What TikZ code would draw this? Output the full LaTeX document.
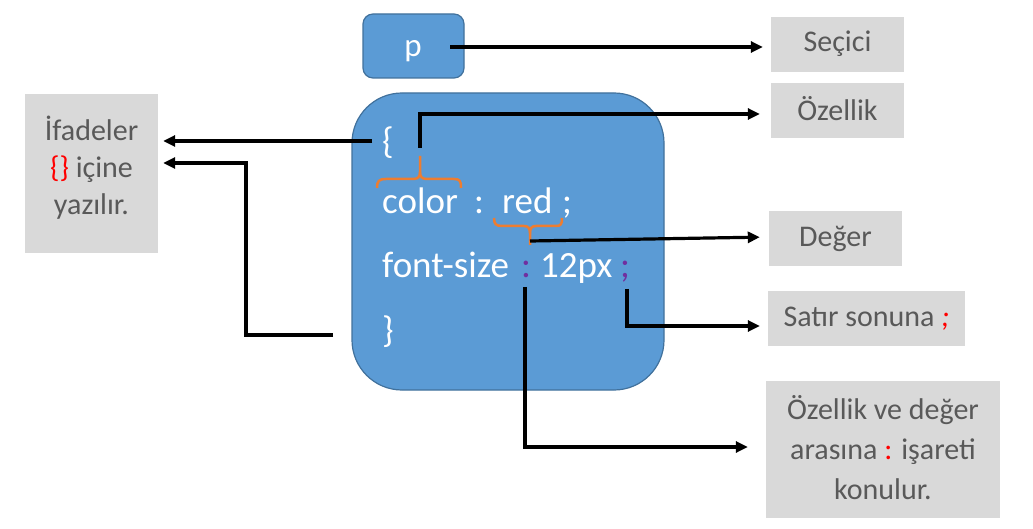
\documentclass[tikz,border=0pt]{standalone}
\usepackage{fontspec}
\setmainfont{Carlito}
\usetikzlibrary{arrows.meta}
\definecolor{blu}{HTML}{5B9BD5}
\definecolor{bluedge}{HTML}{41719C}
\definecolor{gry}{HTML}{D9D9D9}
\definecolor{txtg}{HTML}{595959}
\definecolor{org}{HTML}{ED7D31}
\definecolor{purp}{HTML}{7030A0}
\begin{document}
\begin{tikzpicture}[x=1pt,y=-1pt,
 lblbox/.style={fill=gry, inner sep=0pt},
 lbltext/.style={text=txtg, font=\fontsize{30}{37}\selectfont, inner sep=0pt, align=center},
 arr/.style={line width=3.2pt, -{Triangle[length=12pt,width=11pt]}},
 code/.style={text=white, font=\fontsize{37}{44}\selectfont, inner sep=0pt, anchor=base west},
 brc/.style={draw=org, line width=2.5pt}]

\useasboundingbox (0,0) rectangle (1033,529);

% blue shapes
\node[fill=blu, draw=bluedge, line width=1.2pt, rounded corners=10pt, minimum width=101pt, minimum height=64pt] (pbox) at (413.5,46) {};
\node[text=white, font=\fontsize{33}{40}\selectfont, inner sep=0pt, anchor=base] (pT) at (413,57) {p};
\node[fill=blu, draw=bluedge, line width=1.2pt, rounded corners=50pt, minimum width=312pt, minimum height=297pt] (body) at (508,241.5) {};

% label boxes
\node[lblbox, minimum width=133pt, minimum height=55pt] (secici) at (837.5,44.5) {};
\node[lbltext] (seciciT) at (837.5,43.5) {Seçici};
\node[lblbox, minimum width=133pt, minimum height=55pt] (ozellik) at (837.5,110.5) {};
\node[lbltext] (ozellikT) at (837.5,109) {Özellik};
\node[lblbox, minimum width=133pt, minimum height=55pt] (deger) at (835.5,238.5) {};
\node[lbltext] (degerT) at (835.5,238.5) {Değer};
\node[lblbox, minimum width=197pt, minimum height=55pt] (satir) at (866.5,318.5) {};
\node[lbltext] (satirT) at (866.5,318.5) {Satır sonuna {\color{red}\itshape;}};
\node[lblbox, minimum width=234pt, minimum height=137pt] (alt) at (883,449.5) {};
\node[lbltext, font=\fontsize{30}{40}\selectfont] (altT) at (883,448) {Özellik ve değer\\arasına {\color{red}:} işareti\\konulur.};
\node[lblbox, minimum width=133pt, minimum height=159pt] (left) at (91.5,173.5) {};
\node[lbltext] (leftT) at (91.5,167.5) {İfadeler\\{\color{red}\{\}} içine\\yazılır.};

% code text
\node[text=white, font=\fontsize{37}{44}\selectfont, inner sep=0pt] (ob) at (388,143) {\{};
\node[code] (color) at (382,214) {color};
\node[code] (col1) at (474,214) {:};
\node[code] (red) at (502,214) {red};
\node[code] (semi1) at (562,214) {;};
\node[code] (fs) at (382,278) {font-size};
\node[code, text=purp] (col2) at (521,278) {:};
\node[code] (px) at (540,278) {12px};
\node[code, text=purp] (semi2) at (620,278) {;};
\node[text=white, font=\fontsize{37}{44}\selectfont, inner sep=0pt] (cb) at (388,332) {\}};

% braces
\draw[brc] (377,188) .. controls (377,181) and (379,179) .. (386,179) -- (413,179) .. controls (418,179) and (420,177) .. (420,172) -- (420,156);
\draw[brc] (420,172) .. controls (420,177) and (422,179) .. (427,179) -- (454,179) .. controls (460,179) and (461,181) .. (461,188);
\draw[brc] (494,218) .. controls (494,224) and (496,226) .. (502,226) -- (524,226) .. controls (528,226) and (530,228) .. (530,233) -- (530,245);
\draw[brc] (530,233) .. controls (530,228) and (532,226) .. (536,226) -- (556,226) .. controls (561,226) and (562,224) .. (562,218);

% connector start points
\coordinate (pS) at (450,47);
\coordinate (ozS) at (420,148);
\coordinate (obS) at (372,141);
\coordinate (cbS) at (333,335);
\coordinate (bendL) at (246,163);
\coordinate (degS) at (530,241);
\coordinate (satS) at (627,289);
\coordinate (altS) at (525,287);

% connectors
\draw[arr, shorten >=8pt] (pS) -- (pS -| secici.west);
\draw[arr, shorten >=11pt] (ozS) |- ([yshift=-3.5pt]ozellik.west);
\draw[arr, shorten >=5pt] (obS) -- (obS -| left.east);
\draw[arr, shorten >=5pt] (cbS) -| (bendL) -- (bendL -| left.east);
\draw[arr, shorten >=9pt] (degS) -- ([yshift=1.5pt]deger.west);
\draw[arr, shorten >=8pt] (satS) |- ([yshift=-7.5pt]satir.west);
\draw[arr, shorten >=18pt] (altS) |- ([yshift=2.5pt]alt.west);
\end{tikzpicture}
\end{document}
